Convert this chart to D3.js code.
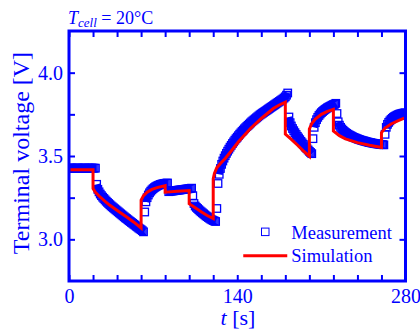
<!DOCTYPE html>
<html>
<head>
<meta charset="utf-8">
<script src="https://cdn.jsdelivr.net/npm/d3@7"></script>
<style>
  body { margin: 0; background: #fff; }
  svg text { font-family: "Liberation Serif", "Times New Roman", serif; fill: #0000ff; }
</style>
</head>
<body>
<svg id="chart" width="420" height="329"></svg>
<script>
// measurement, sampled every 1 s from t = 0 s
var measV = [
  3.427,3.427,3.428,3.427,3.426,3.427,3.427,3.428,3.427,3.426,3.427,3.427,3.427,3.428,3.427,3.426,3.427,3.427,3.427,3.428,3.427,3.427,3.427,
  3.330,3.300,3.285,3.272,3.262,3.253,3.245,3.237,3.229,3.222,3.215,3.208,3.201,3.195,3.189,3.183,3.177,3.171,3.165,3.159,
  3.153,3.147,3.141,3.135,3.129,3.124,3.118,3.112,3.107,3.101,3.096,3.090,3.085,3.079,3.074,3.068,3.063,3.058,3.052,3.045,
  3.164,3.225,3.250,3.266,3.279,3.289,3.297,3.304,3.310,3.315,3.319,3.323,3.326,3.329,3.331,3.333,3.335,3.336,3.337,3.338,
  3.286,3.288,3.289,3.290,3.291,3.292,3.293,3.294,3.295,3.296,3.297,3.298,3.299,3.300,3.301,3.302,3.303,3.304,3.305,3.307,
  3.262,3.215,3.200,3.192,3.185,3.178,3.171,3.165,3.159,3.153,3.147,3.141,3.136,3.131,3.126,3.121,3.117,3.113,3.110,3.107,
  3.185,3.335,3.390,3.425,3.450,3.470,3.487,3.502,3.516,3.529,3.541,3.553,3.564,3.575,3.585,3.595,3.604,3.613,3.622,3.631,
  3.639,3.647,3.655,3.663,3.670,3.677,3.684,3.691,3.698,3.705,3.711,3.717,3.723,3.729,3.735,3.741,3.747,3.752,3.757,3.762,
  3.767,3.772,3.777,3.782,3.787,3.792,3.797,3.802,3.807,3.812,3.817,3.822,3.827,3.832,3.837,3.842,3.848,3.855,3.865,3.878,
  3.734,3.700,3.680,3.665,3.652,3.640,3.629,3.618,3.608,3.598,3.588,3.579,3.570,3.561,3.552,3.544,3.536,3.528,3.521,3.514,
  3.604,3.672,3.700,3.718,3.732,3.743,3.752,3.760,3.767,3.773,3.779,3.784,3.789,3.793,3.797,3.801,3.805,3.808,3.811,3.816,
  3.755,3.705,3.685,3.672,3.662,3.654,3.647,3.641,3.636,3.631,3.627,3.623,3.619,3.615,3.612,3.609,3.606,3.603,3.600,3.598,
  3.595,3.593,3.591,3.589,3.587,3.585,3.583,3.581,3.580,3.578,3.577,3.575,3.574,3.573,3.572,3.571,3.570,3.569,3.568,3.567,
  3.630,3.672,3.690,3.702,3.711,3.719,3.726,3.732,3.737,3.741,3.745,3.748,3.751,3.753,3.755,3.757,3.758,3.759
];

// simulation (vertices of the red line, repeated times are the current steps)
var simT = [0,20,20,22,25,30,34,41,48,54,60,60,62,65,69,74,80,80,90,100,100,105,110,115,120,
            120,121,123,126,130,135,141,151,160,170,175,180,180,185,190,195,200,
            200,202,205,210,215,220,220,225,230,240,250,260,260,263,268,274,280];
var simV = [3.418,3.418,3.305,3.282,3.260,3.228,3.204,3.168,3.134,3.103,3.068,3.235,3.262,3.283,3.300,3.312,3.322,3.283,3.288,3.293,3.214,3.190,3.165,3.143,3.125,
            3.363,3.395,3.430,3.455,3.485,3.530,3.585,3.665,3.725,3.785,3.806,3.823,3.632,3.600,3.566,3.531,3.498,
            3.662,3.695,3.722,3.750,3.768,3.780,3.650,3.622,3.603,3.580,3.564,3.551,3.640,3.668,3.692,3.712,3.730];

var xTicks = [0,20,40,60,80,100,120,140,160,180,200,220,240,260,280];
var xLabels = [0,140,280];
var yTicks = [3.0,3.25,3.5,3.75,4.0];
var yLabels = [3.0,3.5,4.0];
var legendNames = ["Measurement","Simulation"];

var blue = "#0000ff", red = "#ff0000";
var svg = d3.select("#chart");
var margin = {top: 31, right: 14.5, bottom: 48, left: 69};
var width = 420 - margin.left - margin.right,
    height = 329 - margin.top - margin.bottom;
var g = svg.append("g").attr("transform", "translate(" + margin.left + "," + margin.top + ")");

var x = d3.scaleLinear().domain([0, 280]).range([0, width]);
var y = d3.scaleLinear().domain([2.75, 4.25]).range([height, 0]);

g.append("clipPath").attr("id", "clip")
  .append("rect").attr("width", width).attr("height", height);

var meas = measV.map(function(v, i) { return {t: i, v: v}; });

// the markers overlap so much that they merge into a solid band:
// split the samples where the current steps, and fill each run
var runs = [[meas[0]]];
for (var i = 1; i < meas.length; i++) {
  if (Math.abs(meas[i].v - meas[i - 1].v) > 0.04) runs.push([]);
  runs[runs.length - 1].push(meas[i]);
}
var band = d3.line().x(d => x(d.t)).y(d => y(d.v));
var plotArea = g.append("g").attr("clip-path", "url(#clip)");
plotArea.selectAll("path.band")
  .data(runs.filter(r => r.length > 1)).enter()
  .append("path")
  .attr("class", "band")
  .attr("d", band)
  .attr("fill", "none")
  .attr("stroke", blue)
  .attr("stroke-width", 7)
  .attr("stroke-linejoin", "round");

var sq = 7.5;
plotArea.selectAll("rect")
  .data(meas).enter()
  .append("rect")
  .attr("x", d => x(d.t) - sq / 2)
  .attr("y", d => y(d.v) - sq / 2)
  .attr("width", sq)
  .attr("height", sq)
  .attr("fill", "none")
  .attr("stroke", blue)
  .attr("stroke-width", 1.3);

// simulation line
var line = d3.line().x(d => x(d[0])).y(d => y(d[1]));
plotArea.append("path")
  .datum(simT.map((t, i) => [t, simV[i]]))
  .attr("d", line)
  .attr("fill", "none")
  .attr("stroke", red)
  .attr("stroke-width", 3)
  .attr("stroke-linejoin", "miter");

// axes, ticks pointing inward on all four sides
function styleAxis(sel) {
  sel.select(".domain").remove();
  sel.selectAll(".tick line").attr("stroke", blue).attr("stroke-width", 2);
  sel.selectAll(".tick text").attr("fill", blue).style("font-size", "20px");
}
var fmtX = d => xLabels.indexOf(d) >= 0 ? d : "";
var fmtY = d => yLabels.indexOf(d) >= 0 ? d3.format(".1f")(d) : "";

g.append("g").attr("transform", "translate(0," + height + ")")
  .call(d3.axisBottom(x).tickValues(xTicks).tickSizeInner(-6).tickSizeOuter(0).tickPadding(8).tickFormat(fmtX))
  .call(styleAxis);
g.append("g")
  .call(d3.axisTop(x).tickValues(xTicks).tickSizeInner(-6).tickSizeOuter(0).tickFormat(""))
  .call(styleAxis);
g.append("g")
  .call(d3.axisLeft(y).tickValues(yTicks).tickSizeInner(-6).tickSizeOuter(0).tickPadding(6).tickFormat(fmtY))
  .call(styleAxis);
g.append("g").attr("transform", "translate(" + width + ",0)")
  .call(d3.axisRight(y).tickValues(yTicks).tickSizeInner(-6).tickSizeOuter(0).tickFormat(""))
  .call(styleAxis);

g.append("rect")
  .attr("width", width).attr("height", height)
  .attr("fill", "none").attr("stroke", blue).attr("stroke-width", 3);

// axis titles
svg.append("text")
  .attr("transform", "translate(29,153) rotate(-90)")
  .attr("text-anchor", "middle")
  .style("font-size", "24px")
  .text("Terminal voltage [V]");

var xt = svg.append("text")
  .attr("x", 238).attr("y", 325)
  .attr("text-anchor", "middle")
  .style("font-size", "22px");
xt.append("tspan").style("font-style", "italic").text("t");
xt.append("tspan").text(" [s]");

// condition label
var tl = svg.append("text").attr("x", 68).attr("y", 24).style("font-size", "18px");
tl.append("tspan").style("font-style", "italic").text("T");
tl.append("tspan").style("font-style", "italic").style("font-size", "13px").attr("dy", 3).text("cell");
tl.append("tspan").attr("dy", -3).text(" = 20°C");

// legend
var lg = g.append("g").attr("transform", "translate(" + (x(140) + 28) + "," + (y(3.0) - 7.5) + ")");
lg.append("rect")
  .attr("x", -sq / 2).attr("y", -sq / 2).attr("width", sq).attr("height", sq)
  .attr("fill", "none").attr("stroke", blue).attr("stroke-width", 1);
lg.append("line")
  .attr("x1", -22).attr("x2", 22).attr("y1", 24).attr("y2", 24)
  .attr("stroke", red).attr("stroke-width", 3);
lg.selectAll("text.lab")
  .data(legendNames).enter()
  .append("text")
  .attr("class", "lab")
  .attr("x", 26)
  .attr("y", (d, i) => 7 + i * 23)
  .style("font-size", "18.5px")
  .text(d => d);
</script>
</body>
</html>
